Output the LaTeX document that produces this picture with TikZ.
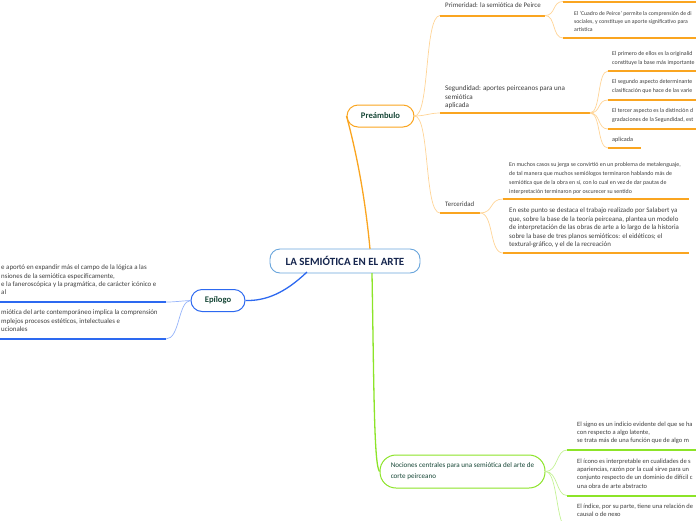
\documentclass[tikz,border=0pt]{standalone}
\usepackage{fontspec}
\setmainfont{Carlito}
\usetikzlibrary{positioning}
\definecolor{rootblue}{RGB}{105,165,220}
\definecolor{rootnavy}{RGB}{22,38,78}
\definecolor{topicgreen}{RGB}{24,72,56}
\definecolor{leafgray}{RGB}{62,62,62}
\definecolor{preorange}{RGB}{250,165,32}
\definecolor{prelight}{RGB}{255,212,150}
\definecolor{epiblue}{RGB}{45,105,240}
\definecolor{epilight}{RGB}{150,180,250}
\definecolor{nocgreen}{RGB}{140,228,40}
\definecolor{noclight}{RGB}{196,242,150}
\newcommand{\fs}[2]{\fontsize{#1}{#2}\selectfont}

\begin{document}
\begin{tikzpicture}[x=1pt,y=-1pt,
        root/.style={draw=rootblue,line width=0.9pt,rounded corners=10pt,fill=white,
          minimum width=150pt,minimum height=24pt,text=rootnavy,font=\bfseries\fs{11}{12}},
        topic/.style={draw=#1,line width=1pt,rounded corners=11pt,fill=white,
          minimum height=22pt,text=topicgreen,font=\bfseries\fs{8.6}{9}},
        leaf/.style={anchor=north west,inner sep=0pt,align=left,text=leafgray,font=\fs{6.7}{8.5}},
        uline/.style={draw=#1,line width=2pt},
        branch/.style={draw=#1,line width=1.3pt},
        twig/.style={draw=#1,line width=0.7pt}]
        \useasboundingbox (0,0) rectangle (696,520);
        \clip (0,0) rectangle (696,520);

        % main topics
        \node[root] (root) at (345,261) {LA SEMIÓTICA EN EL ARTE};
        \node[topic=preorange,minimum width=67pt] (pre) at (380.5,116) {Preámbulo};
        \node[topic=epiblue,minimum width=54pt] (epi) at (218,300.5) {Epílogo};
        \node[topic=nocgreen,minimum width=165pt,minimum height=33pt,rounded corners=16pt,
          align=left,font=\fs{7.1}{11}] (noc) at (462.5,471.5)
          {Nociones centrales para una semiótica del arte de\\corte peirceano};

        \coordinate (root-n) at (370,249);
        \coordinate (root-sw) at (307,272);
        \coordinate (root-s) at (372,273);
        \draw[branch=preorange] (root-n) .. controls (364,185) and (353,140) .. (pre.west);
        \draw[branch=epiblue] (root-sw) .. controls (285,293) and (266,301) .. (epi.east);
        \draw[branch=nocgreen] (root-s) .. controls (374,390) and (374,465) .. (noc.west);

        % Preambulo
        \coordinate (prim-l) at (440,15.5);  \coordinate (prim-r) at (545,15.5);
        \coordinate (seg-l) at (440,113);    \coordinate (seg-r) at (590,113);
        \coordinate (ter-l) at (440,213);    \coordinate (ter-r) at (480,213);
        \node[leaf,font=\fs{6.9}{8.5}] (prim) at (445,3) {Primeridad: la semiótica de Peirce};
        \node[leaf,font=\fs{7.1}{8.5}] (seg) at (445,85.5) {Segundidad: aportes peirceanos para una\\semiótica\\aplicada};
        \node[leaf,font=\fs{6.8}{8.5}] (ter) at (445,202) {Terceridad};
        \draw[twig=prelight] (pre.east) .. controls (430,116) and (424,16) .. (prim-l);
        \draw[twig=prelight] (pre.east) .. controls (425,116) and (430,113) .. (seg-l);
        \draw[twig=prelight] (pre.east) .. controls (430,116) and (424,213) .. (ter-l);
        \draw[uline=preorange] (prim-l) -- (prim-r);
        \draw[uline=preorange] (seg-l) -- (seg-r);
        \draw[uline=preorange] (ter-l) -- (ter-r);

        % Primeridad
        \coordinate (top-l) at (563,1.5);  \coordinate (top-r) at (700,1.5);
        \coordinate (cua-l) at (563,38);   \coordinate (cua-r) at (700,38);
        \node[leaf,font=\fs{5.75}{8.1}] (cua) at (574,11)
          {El `Cuadro de Peirce' permite la comprensión de di\\sociales, y constituye un aporte significativo para\\artística};
        \draw[twig=prelight] (prim-r) .. controls (556,15.5) and (552,1.5) .. (top-l);
        \draw[twig=prelight] (prim-r) .. controls (556,15.5) and (552,38) .. (cua-l);
        \draw[uline=preorange] (top-l) -- (top-r);
        \draw[uline=preorange] (cua-l) -- (cua-r);

        % Segundidad
        \coordinate (s1-l) at (608,71);   \coordinate (s1-r) at (700,71);
        \coordinate (s2-l) at (608,100);  \coordinate (s2-r) at (700,100);
        \coordinate (s3-l) at (608,129);  \coordinate (s3-r) at (700,129);
        \coordinate (s4-l) at (608,148);  \coordinate (s4-r) at (641,148);
        \node[leaf,font=\fs{5.9}{8.7}] (s1) at (612,51) {El primero de ellos es la originalid\\constituye la base más importante};
        \node[leaf,font=\fs{5.9}{8.7}] (s2) at (612,79.5) {El segundo aspecto determinante\\clasificación que hace de las varie};
        \node[leaf,font=\fs{5.9}{8.7}] (s3) at (612,108.5) {El tercer aspecto es la distinción d\\gradaciones de la Segundidad, est};
        \node[leaf,font=\fs{6.2}{8.5}] (s4) at (612,137) {aplicada};
        \foreach \k in {s1,s2,s3,s4}
          \draw[twig=prelight] (seg-r) .. controls (601,113) and (597,0 |- \k-l) .. (\k-l);
        \foreach \k in {s1,s2,s3,s4}
          \draw[uline=preorange] (\k-l) -- (\k-r);

        % Terceridad
        \coordinate (t1-l) at (503,199);  \coordinate (t1-r) at (689,199);
        \coordinate (t2-l) at (503,253);  \coordinate (t2-r) at (689,253);
        \node[leaf,font=\fs{5.9}{8.75}] (t1) at (509,162.5)
          {En muchos casos su jerga se convirtió en un problema de metalenguaje,\\de tal manera que muchos semiólogos terminaron hablando más de\\semiótica que de la obra en sí, con lo cual en vez de dar pautas de\\interpretación terminaron por oscurecer su sentido};
        \node[leaf,font=\fs{6.9}{8.5}] (t2) at (509,208)
          {En este punto se destaca el trabajo realizado por Salabert ya\\que, sobre la base de la teoría peirceana, plantea un modelo\\de interpretación de las obras de arte a lo largo de la historia\\sobre la base de tres planos semióticos: el eidéticos; el\\textural-gráfico, y el de la recreación};
        \draw[twig=prelight] (ter-r) .. controls (494,213) and (489,199) .. (t1-l);
        \draw[twig=prelight] (ter-r) .. controls (494,213) and (489,253) .. (t2-l);
        \draw[uline=preorange] (t1-l) -- (t1-r);
        \draw[uline=preorange] (t2-l) -- (t2-r);

        % Epilogo
        \coordinate (e1-l) at (-5,302);  \coordinate (e1-r) at (166,302);
        \coordinate (e2-l) at (-5,339);  \coordinate (e2-r) at (166,339);
        \node[leaf,font=\fs{6.9}{8.3}] (e1) at (1,265)
          {e aportó en expandir más el campo de la lógica a las\\nsiones de la semiótica específicamente,\\e la faneroscópica y la pragmática, de carácter icónico e\\al};
        \node[leaf,font=\fs{6.9}{8.6}] (e2) at (1,309.5)
          {miótica del arte contemporáneo implica la comprensión\\mplejos procesos estéticos, intelectuales e\\ucionales};
        \draw[twig=epilight] (epi.west) .. controls (180,301) and (176,302) .. (e1-r);
        \draw[twig=epilight] (epi.west) .. controls (178,301) and (180,339) .. (e2-r);
        \draw[uline=epiblue] (e1-l) -- (e1-r);
        \draw[uline=epiblue] (e2-l) -- (e2-r);

        % Nociones
        \coordinate (n1-l) at (567,450);  \coordinate (n1-r) at (700,450);
        \coordinate (n2-l) at (567,495.5);  \coordinate (n2-r) at (700,495.5);
        \coordinate (n3-l) at (567,528);  \coordinate (n3-r) at (700,528);
        \node[leaf,font=\fs{6.5}{8.1}] (n1) at (577,421.5)
          {El signo es un indicio evidente del que se ha\\con respecto a algo latente,\\ se trata más de una función que de algo m};
        \node[leaf,font=\fs{6.5}{8.3}] (n2) at (577,458.5)
          {El ícono es interpretable en cualidades de s\\apariencias, razón por la cual sirve para un\\conjunto respecto de un dominio de difícil c\\una obra de arte abstracto};
        \node[leaf,font=\fs{6.5}{8.3}] (n3) at (577,503.5)
          {El índice, por su parte, tiene una relación de\\causal o de nexo};
        \foreach \k in {n1,n2,n3}
          \draw[twig=noclight] (noc.east) .. controls (558,471.5) and (556,0 |- \k-l) .. (\k-l);
        \foreach \k in {n1,n2,n3}
          \draw[uline=nocgreen] (\k-l) -- (\k-r);
      \end{tikzpicture}
\end{document}
